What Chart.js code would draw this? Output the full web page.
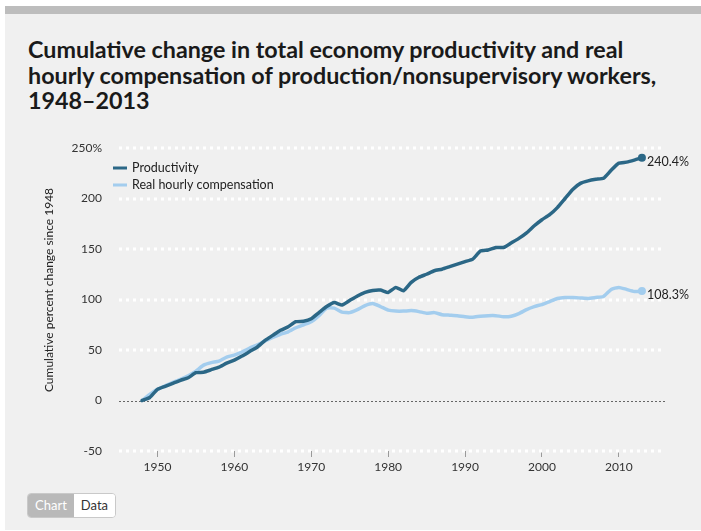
<!DOCTYPE html>
<html><head><meta charset="utf-8">
<script src="https://cdn.jsdelivr.net/npm/chart.js@4/dist/chart.umd.min.js"></script>
<style>
html,body{margin:0;padding:0;background:#fff;width:701px;height:531px;overflow:hidden;font-family:Lato, "Open Sans", sans-serif;}
#panel{position:absolute;left:5px;top:6px;width:696px;height:524px;background:#f0f0f0;}
#bar{position:absolute;left:5px;top:6px;width:696px;height:8px;background:#bdbdbd;}
#title{position:absolute;left:28px;top:37px;font-weight:bold;font-size:23.3px;line-height:25.5px;color:#1a1a1a;white-space:nowrap;}
#wrap{position:absolute;left:0;top:0;width:701px;height:531px;}
#btns{position:absolute;left:27px;top:493px;height:23px;display:flex;border:1px solid #c9c9c9;border-radius:4px;overflow:hidden;font-size:13px;}
.b1{background:#b9b9b9;color:#fff;padding:0 7px;line-height:23px}
.b2{background:#fff;color:#333;padding:0 7px;line-height:23px}
</style></head><body>
<div id="panel"></div><div id="bar"></div>
<div id="title">Cumulative change in total economy productivity and real<br>hourly compensation of production/nonsupervisory workers,<br>1948–2013</div>
<div id="wrap"><canvas id="c"></canvas></div>
<div id="btns"><span class="b1">Chart</span><span class="b2">Data</span></div>
<script>
const years = [1948,1949,1950,1951,1952,1953,1954,1955,1956,1957,1958,1959,1960,1961,1962,1963,1964,1965,1966,1967,1968,1969,1970,1971,1972,1973,1974,1975,1976,1977,1978,1979,1980,1981,1982,1983,1984,1985,1986,1987,1988,1989,1990,1991,1992,1993,1994,1995,1996,1997,1998,1999,2000,2001,2002,2003,2004,2005,2006,2007,2008,2009,2010,2011,2012,2013];
const productivity = [0,3,11,14,17,20,22.5,27.5,28,30.5,33,37,40,44,48.5,53,59.5,64.5,69.5,73,78,78.5,81,87,93,97,94.5,99,103.5,107,109,109.4,107,112,108.7,117,122,125,128.5,130,132.5,135,137.5,140,148,149,151.5,151.5,156,160.5,166,173,179,184,191,200,209,215,217.5,219,220,228,235,236,238,240.4];
const compensation = [0,6,11,14.5,18,21,24.5,29,35,37.5,39,43,45,48,52,55,59,62.5,65.5,68,72,75,78,84,91.5,91.5,87.5,87,90,94,96,93,89.5,88.5,88.5,89,88,86.5,87,85,84.5,84,83,82.5,83.5,84,84,83,83.5,86,90,93,95,98,101,102,102,101.5,101,102,103,110,112,110,108,108.3];
const seriesNames = ['Productivity','Real hourly compensation'];
const endLabels = ['240.4%','108.3%'];
const xTicks = [1950,1960,1970,1980,1990,2000,2010];
const yTicks = [-50,0,50,100,150,200,250];
const colors = ['#2b6786','#a3cdee'];
const FONT = 'Lato, "Open Sans", sans-serif';

const customDraw = {
  id:'customDraw',
  beforeDatasetsDraw(chart){
    const ctx = chart.ctx, y = chart.scales.y, a = chart.chartArea;
    ctx.save();
    y.ticks.forEach(t=>{
      const py = Math.round(y.getPixelForValue(t.value));
      ctx.beginPath();
      if (t.value === 0){
        ctx.strokeStyle='#666'; ctx.lineWidth=1; ctx.setLineDash([2,2]);
        ctx.moveTo(a.left, py+0.5); ctx.lineTo(a.right, py+0.5);
      } else {
        ctx.strokeStyle='#ffffff'; ctx.lineWidth=3; ctx.setLineDash([3,4]);
        ctx.moveTo(a.left, py); ctx.lineTo(a.right, py);
      }
      ctx.stroke();
    });
    ctx.restore();
  },
  afterDatasetsDraw(chart){
    const ctx = chart.ctx;
    ctx.save();
    ctx.font = '12.5px ' + FONT; ctx.fillStyle='#222'; ctx.textAlign='left'; ctx.textBaseline='middle';
    chart.data.datasets.forEach((ds,i)=>{
      const meta = chart.getDatasetMeta(i);
      const p = meta.data[meta.data.length-1];
      ctx.fillText(endLabels[i], p.x+5, p.y+4);
    });
    ctx.font = '12.5px ' + FONT;
    chart.data.datasets.forEach((ds,i)=>{
      const ly = 168 + i*17;
      ctx.strokeStyle = ds.borderColor; ctx.lineWidth=3; ctx.setLineDash([]);
      ctx.beginPath(); ctx.moveTo(113, ly); ctx.lineTo(127, ly); ctx.stroke();
      ctx.fillStyle='#222';
      ctx.fillText(ds.label, 132, ly);
    });
    ctx.translate(49, 290); ctx.rotate(-Math.PI/2);
    ctx.textAlign='center'; ctx.fillStyle='#222'; ctx.font='12px ' + FONT;
    ctx.fillText('Cumulative percent change since 1948', 0, 0);
    ctx.restore();
  }
};

const lastIdx = years.length-1;
new Chart(document.getElementById('c'), {
  type:'line',
  data:{
    datasets:[
      {label:seriesNames[0], data:years.map((yr,i)=>({x:yr,y:productivity[i]})), borderColor:colors[0], backgroundColor:colors[0]},
      {label:seriesNames[1], data:years.map((yr,i)=>({x:yr,y:compensation[i]})), borderColor:colors[1], backgroundColor:colors[1]}
    ]
  },
  options:{
    responsive:true, maintainAspectRatio:false, animation:false,
    layout:{padding:{top:148,right:36,left:0,bottom:0}},
    elements:{
      line:{borderWidth:3.5, tension:0.15, borderJoinStyle:'round', borderCapStyle:'round', fill:false},
      point:{radius:ctx=>ctx.dataIndex===lastIdx?4:0, hoverRadius:0, borderWidth:0}
    },
    plugins:{legend:{display:false}, tooltip:{enabled:false}},
    events:[],
    scales:{
      x:{type:'linear', min:1945, max:2016,
        afterBuildTicks:ax=>{ax.ticks = xTicks.map(v=>({value:v}));},
        afterFit:s=>{s.height=80;},
        grid:{display:true, drawOnChartArea:false, drawTicks:true, tickLength:6, color:'#9a9a9a', lineWidth:1},
        border:{display:false},
        ticks:{padding:3, color:'#333', font:{family:FONT,size:12}, callback:v=>String(v), maxRotation:0}
      },
      y:{type:'linear', min:-50, max:250,
        afterBuildTicks:ax=>{ax.ticks = yTicks.map(v=>({value:v}));},
        afterFit:s=>{s.width=119;},
        grid:{display:false, drawTicks:false},
        border:{display:false},
        ticks:{padding:17, color:'#333', font:{family:FONT,size:12}, callback:v=>v===250?'250%':String(v)}
      }
    }
  },
  plugins:[customDraw]
});
</script>
</body></html>
